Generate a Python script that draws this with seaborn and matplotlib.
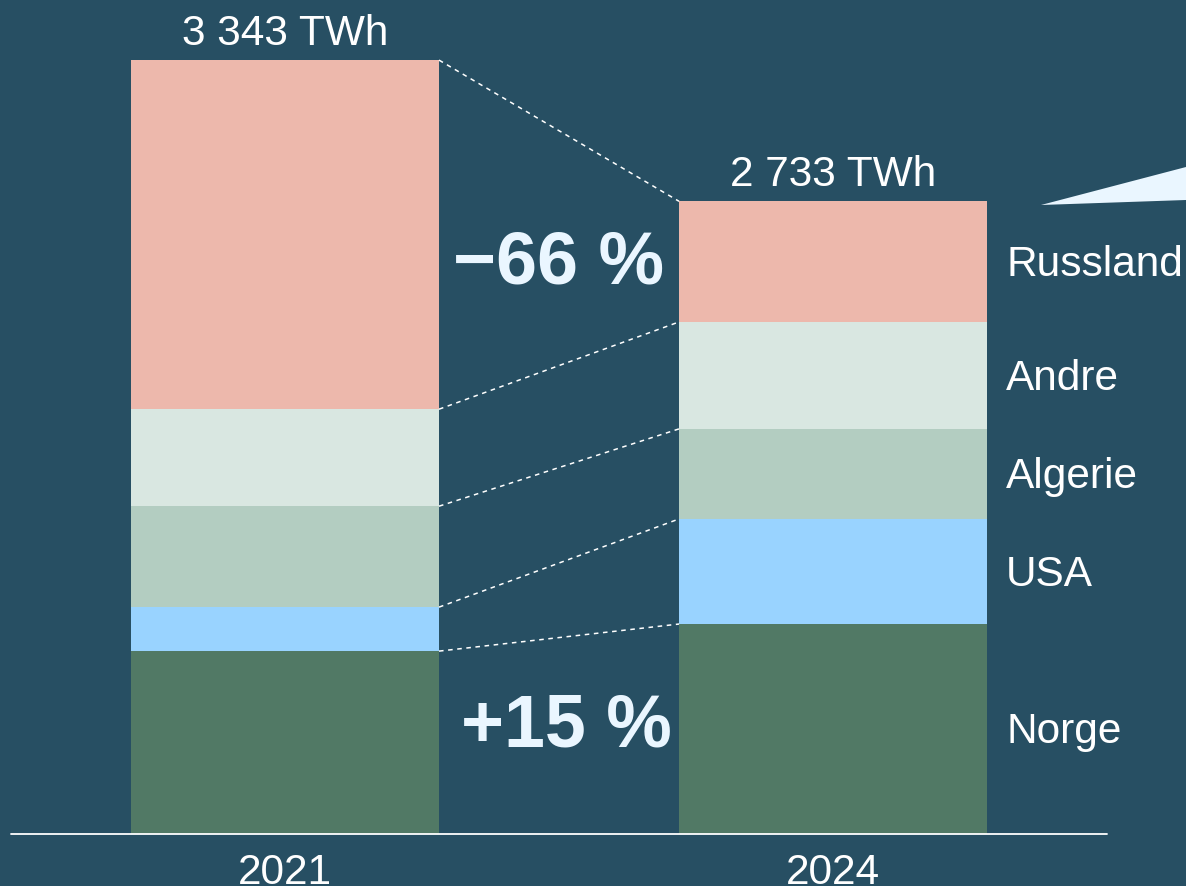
import numpy as np
import pandas as pd
import matplotlib
matplotlib.use("Agg")
import matplotlib.pyplot as plt
import seaborn as sns
from matplotlib.patches import Polygon

# data (TWh)
years = ["2021", "2024"]
countries = ["Norge", "USA", "Algerie", "Andre", "Russland"]
norge = [790, 907]
usa = [190, 454]
algerie = [436, 389]
andre = [419, 462]
russland = [1508, 521]
total_labels = ["3 343 TWh", "2 733 TWh"]
change_labels = ["\u221266 %", "+15 %"]

colors = ["#517965", "#99d3ff", "#b3cdc1", "#d9e7e1", "#edb8ac"]
bg = "#274f63"
light = "#eaf6ff"

sns.set_theme(style="white")
plt.rcParams["font.family"] = ["Liberation Sans", "DejaVu Sans"]

stack = np.array([norge, usa, algerie, andre, russland], dtype=float)
tops = np.cumsum(stack, axis=0)
bottoms = tops - stack

fig = plt.figure(figsize=(11.86, 8.86), dpi=100, facecolor=bg)
ax = fig.add_axes([0, 0, 1, 1])
ax.set_facecolor(bg)

bar_w = 0.562
for i, name in enumerate(countries):
    df = pd.DataFrame({"year": years, "value": stack[i]})
    sns.barplot(data=df, x="year", y="value", color=colors[i], width=bar_w,
                bottom=bottoms[i], linewidth=0, saturation=1, ax=ax, errorbar=None)

# axis limits so that bars sit like the reference
ax.set_xlim(-0.520, 1.644)
ax.set_ylim(-224.6, 3602.6)
ax.axis("off")

# baseline
ax.axhline(0, xmin=11 / 1186, xmax=1107 / 1186, color="white", lw=1.3)

# dashed connectors between the stacks
for i in range(len(countries)):
    ax.plot([bar_w / 2, 1 - bar_w / 2], [tops[i, 0], tops[i, 1]],
            color="white", lw=1.1, ls=(0, (3, 3)))

fs = 30.5

# totals above bars
for j, lab in enumerate(total_labels):
    ax.text(j, tops[-1, j] + 112, lab, ha="center", va="center",
            color="white", fontsize=fs)

# year labels (cut by the bottom edge, as in the original)
for j, yr in enumerate(years):
    ax.text(j, -170, yr, ha="center", va="center", color="white", fontsize=fs)

# country labels to the right of 2024 bar
for i, name in enumerate(countries):
    ax.text(1 + bar_w / 2 + 0.035, (bottoms[i, 1] + tops[i, 1]) / 2 - 14, name,
            ha="left", va="center", color="white", fontsize=fs)

# change annotations
ax.text(0.499, 2462, change_labels[0], ha="center", va="center",
        color=light, fontsize=53, fontweight="bold")
ax.text(0.514, 462, change_labels[1], ha="center", va="center",
        color=light, fontsize=53, fontweight="bold")

# callout wedge at the right edge
tri = Polygon([[1041 / 1186, 1 - 205 / 886], [1.0, 1 - 167 / 886], [1.0, 1 - 200 / 886]],
              closed=True, transform=fig.transFigure, facecolor=light, edgecolor="none")
fig.patches.append(tri)

fig.savefig("out.png", dpi=100, facecolor=bg)
